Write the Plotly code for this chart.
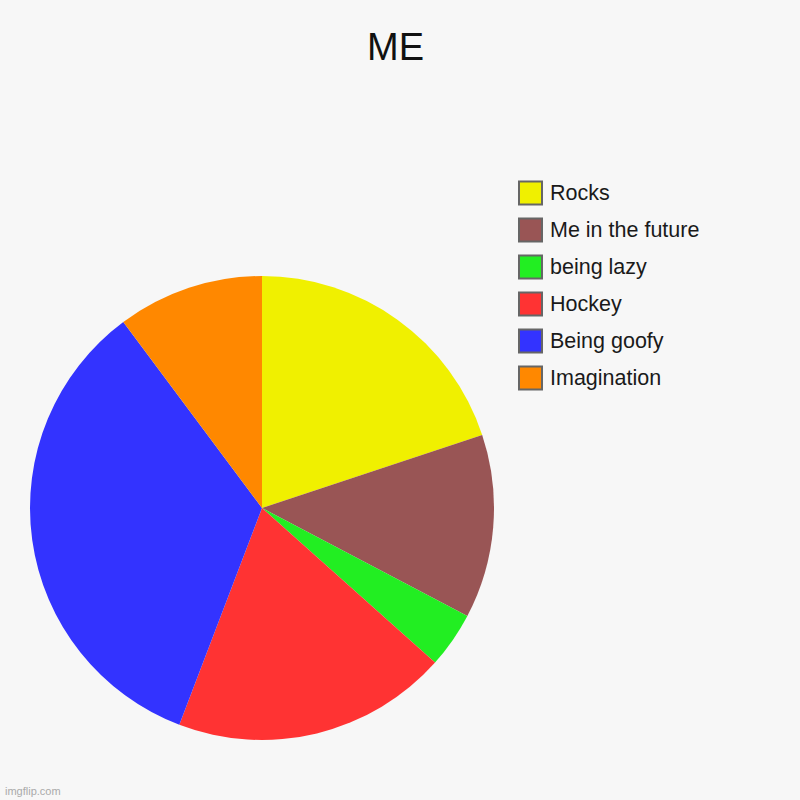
import plotly.graph_objects as go

# pie data (shares, in percent)
labels = ["Rocks", "Me in the future", "being lazy", "Hockey", "Being goofy", "Imagination"]
values = [19.9, 12.8, 3.9, 19.2, 34.0, 10.2]
colors = ["#f0f000", "#995555", "#22ee22", "#ff3333", "#3333ff", "#ff8800"]

W = 800
H = 800

fig = go.Figure()

fig.add_trace(
    go.Pie(
        labels=labels,
        values=values,
        marker=dict(colors=colors, line=dict(width=0)),
        sort=False,
        direction="clockwise",
        rotation=0,
        textinfo="none",
        hoverinfo="label+percent",
        showlegend=False,
        domain=dict(x=[30 / W, 494 / W], y=[1 - 740 / H, 1 - 276 / H]),
    )
)

# hand-made legend so the swatches get the big bordered squares
shapes = []
annotations = []
for i, (lab, col) in enumerate(zip(labels, colors)):
    yc = 193 + i * 37
    shapes.append(
        dict(
            type="rect", xref="paper", yref="paper",
            x0=519 / W, x1=542 / W,
            y0=1 - (yc + 11.5) / H, y1=1 - (yc - 11.5) / H,
            fillcolor=col, line=dict(color="#666666", width=2),
        )
    )
    annotations.append(
        dict(
            text=lab, xref="paper", yref="paper",
            x=548 / W, y=1 - yc / H, xanchor="left", yanchor="middle",
            showarrow=False, font=dict(size=21.5, color="#1a1a1a"),
        )
    )

# title
annotations.append(
    dict(
        text="ME", xref="paper", yref="paper",
        x=395 / W, y=1 - 47 / H, xanchor="center", yanchor="middle",
        showarrow=False, font=dict(size=38, color="#111111"),
    )
)

# watermark
annotations.append(
    dict(
        text="imgflip.com", xref="paper", yref="paper",
        x=3 / W, y=1 - 791 / H, xanchor="left", yanchor="middle",
        showarrow=False, font=dict(size=11, color="#aaaaaa"),
    )
)

fig.update_layout(
    width=W,
    height=H,
    margin=dict(l=0, r=0, t=0, b=0),
    paper_bgcolor="#f7f7f7",
    plot_bgcolor="#f7f7f7",
    font=dict(family="Liberation Sans, Arial, sans-serif"),
    shapes=shapes,
    annotations=annotations,
)

# drop the page's default body margin so the figure sits at 0,0
fig.write_html(
    "out.html",
    config={"displayModeBar": False},
    post_script="document.body.style.margin='0';",
)
